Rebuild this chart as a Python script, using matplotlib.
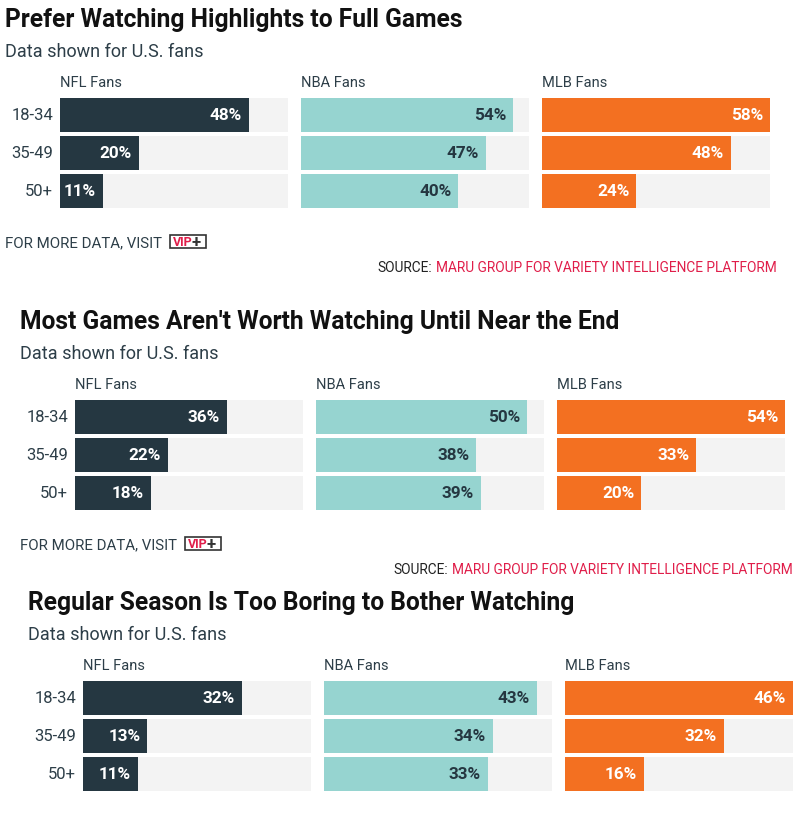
import matplotlib
matplotlib.use("Agg")
import matplotlib.pyplot as plt
from matplotlib.patches import Rectangle

W, H = 806, 820

titles = [
    "Prefer Watching Highlights to Full Games",
    "Most Games Aren't Worth Watching Until Near the End",
    "Regular Season Is Too Boring to Bother Watching",
]
subtitle = "Data shown for U.S. fans"
groups = ["NFL Fans", "NBA Fans", "MLB Fans"]
ages = ["18-34", "35-49", "50+"]

# values[panel][group] -> per age group
nfl = [[48, 20, 11], [36, 22, 18], [32, 13, 11]]
nba = [[54, 47, 40], [50, 38, 39], [43, 34, 33]]
mlb = [[58, 48, 24], [54, 33, 20], [46, 32, 16]]

colors = ["#253741", "#96d4d0", "#f37021"]
label_colors = ["white", "#253741", "white"]
track = "#f3f3f3"
dark = "#2d3e48"
red = "#e01e4a"

font = "Roboto"
plt.rcParams["font.family"] = [font, "DejaVu Sans"]

fig = plt.figure(figsize=(W / 100, H / 100), dpi=100)
fig.patch.set_facecolor("white")


def fx(x):
    return x / W


def fy(y):
    return 1 - y / H


offsets = [5, 20, 28]
tops = [20, 322, 603]
source_right = [777, 793]
source_pairs = []

for p in range(3):
    x0 = offsets[p]
    ty = tops[p]
    fig.text(fx(x0), fy(ty), titles[p], fontsize=17.7, fontweight="bold",
             color="#111111", va="center", ha="left")
    fig.text(fx(x0), fy(ty + 32), subtitle, fontsize=13, color=dark,
             va="center", ha="left")
    vals = [nfl[p], nba[p], mlb[p]]
    vmax = max(max(v) for v in vals)
    bar_x = x0 + 55
    row_top = ty + 77
    for g in range(3):
        left = bar_x + g * 241
        fig.text(fx(left), fy(ty + 63), groups[g], fontsize=10.5, color=dark,
                 va="center", ha="left")
        ax = fig.add_axes([fx(left), fy(row_top + 114), 228 / W, 114 / H])
        ax.set_xlim(0, vmax)
        ax.set_ylim(2.5, -0.5)
        ax.axis("off")
        ys = list(range(len(ages)))
        ax.barh(ys, [vmax] * len(ages), height=34 / 38, color=track, lw=0)
        ax.barh(ys, vals[g], height=34 / 38, color=colors[g], lw=0)
        for yi, v in zip(ys, vals[g]):
            ax.annotate(f"{v}%", (v, yi), xytext=(-7, 0),
                        textcoords="offset pixels", ha="right", va="center",
                        fontsize=12.3, fontweight="bold", color=label_colors[g])
    for i, a in enumerate(ages):
        fig.text(fx(bar_x - 7), fy(row_top + 19 + 38 * i), a, fontsize=12,
                 color=dark, va="center", ha="right")
    if p < 2:
        fy_ = ty + 223
        fig.text(fx(x0), fy(fy_), "FOR MORE DATA, VISIT", fontsize=10.8,
                 color=dark, va="center", ha="left")
        fig.patches.append(Rectangle((fx(x0 + 165), fy(fy_ + 6)), 36 / W, 13 / H,
                                     transform=fig.transFigure, fc="white",
                                     ec="#333333", lw=1.2))
        fig.text(fx(x0 + 168), fy(fy_), "VIP", fontsize=9, fontweight="bold",
                 color=red, va="center", ha="left")
        fig.text(fx(x0 + 187), fy(fy_ - 0.5), "+", fontsize=12, fontweight="bold",
                 color="#333333", va="center", ha="left")
        r = source_right[p]
        t_red = fig.text(fx(r), fy(ty + 248),
                         "MARU GROUP FOR VARIETY INTELLIGENCE PLATFORM",
                         fontsize=9.9, color=red, va="center", ha="right")
        t_src = fig.text(fx(r), fy(ty + 248), "SOURCE:", fontsize=9.9,
                         color="#222222", va="center", ha="right")
        source_pairs.append((t_red, t_src))

fig.canvas.draw()
for t_red, t_src in source_pairs:
    bb = t_red.get_window_extent()
    t_src.set_x((bb.x0 - 4) / W)

fig.savefig("out.png", dpi=100, facecolor="white")
